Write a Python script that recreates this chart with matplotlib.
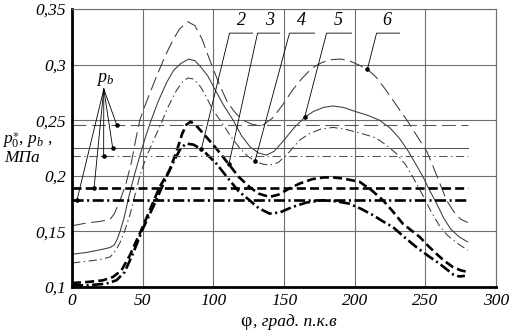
import numpy as np
import matplotlib
matplotlib.use("Agg")
import matplotlib.pyplot as plt

plt.rcParams['font.family'] = ['Liberation Serif', 'DejaVu Serif']
plt.rcParams['mathtext.fontset'] = 'custom'
plt.rcParams['mathtext.it'] = 'Liberation Serif:italic'
plt.rcParams['mathtext.rm'] = 'Liberation Serif'
plt.rcParams['lines.scale_dashes'] = False

# ---------------- data ----------------
x6 = [0, 10, 20, 27, 30, 34, 38, 42, 45, 48, 51, 55, 60, 66, 71, 76, 82, 87, 92, 97.5, 104, 110, 116, 121,
      128, 135, 142, 149, 156, 163, 170, 177, 184, 190, 197, 204, 209, 215, 221, 226, 232, 237, 242, 246,
      251, 255, 260, 265, 270, 275, 280]
y6 = [0.155, 0.1575, 0.159, 0.161, 0.166, 0.178, 0.192, 0.212, 0.232, 0.250, 0.261, 0.274, 0.290, 0.308,
      0.321, 0.332, 0.3385, 0.335, 0.323, 0.304, 0.283, 0.266, 0.256, 0.250, 0.246, 0.2455, 0.252, 0.2637,
      0.277, 0.288, 0.297, 0.302, 0.3045, 0.305, 0.303, 0.299, 0.2958, 0.289, 0.279, 0.270, 0.259, 0.250,
      0.240, 0.232, 0.222, 0.210, 0.194, 0.178, 0.168, 0.161, 0.158]

x5 = [0, 10, 20, 27, 30, 32, 34, 37, 40, 44, 48, 52, 56, 61, 67, 72, 77, 82.5, 87, 91, 96, 101, 107, 114,
      120, 126, 132, 137.5, 143, 150, 157, 164.6, 171, 178, 184.6, 192, 200, 209, 217.6, 225, 231.7, 237.5,
      243, 248, 253, 258, 263, 268, 274, 280]
y5 = [0.1295, 0.131, 0.1335, 0.1355, 0.138, 0.143, 0.150, 0.163, 0.180, 0.200, 0.218, 0.235, 0.250, 0.267,
      0.284, 0.295, 0.301, 0.305, 0.3035, 0.298, 0.290, 0.278, 0.264, 0.250, 0.236, 0.226, 0.2205, 0.2186,
      0.222, 0.232, 0.243, 0.2526, 0.258, 0.2615, 0.2628, 0.2615, 0.258, 0.2545, 0.250, 0.243, 0.2337, 0.223,
      0.211, 0.200, 0.187, 0.175, 0.162, 0.152, 0.145, 0.1405]

x4 = [0, 10, 20, 27, 31, 34, 37, 41, 45, 48, 52, 57, 62, 68, 74, 78, 82, 86, 91, 95, 99.7, 106, 112, 118,
      124, 129.4, 135, 140, 146, 152, 161, 168, 176, 184.6, 193, 202, 209, 215, 222, 229.5, 236, 242, 248,
      254, 260, 266, 273, 280]
y4 = [0.1216, 0.123, 0.1247, 0.127, 0.133, 0.140, 0.1495, 0.165, 0.185, 0.200, 0.215, 0.230, 0.244, 0.262,
      0.277, 0.284, 0.288, 0.287, 0.280, 0.271, 0.259, 0.248, 0.236, 0.226, 0.218, 0.213, 0.2105, 0.2096,
      0.212, 0.219, 0.232, 0.238, 0.242, 0.2435, 0.242, 0.239, 0.2365, 0.234, 0.228, 0.220, 0.210, 0.197,
      0.183, 0.168, 0.155, 0.146, 0.139, 0.133]

x3 = [0, 11, 22, 29, 35, 41, 45, 49, 55, 62, 69, 74, 78, 81, 84, 88, 93.8, 102, 111.5, 118, 125.6, 132,
      139.7, 146, 153, 161, 170, 178, 184.6, 192, 203.5, 212, 220, 227, 234, 240, 246, 252, 257.7, 263,
      269.4, 275, 280]
y3 = [0.1036, 0.1045, 0.106, 0.109, 0.115, 0.1286, 0.140, 0.151, 0.169, 0.190, 0.205, 0.222, 0.238, 0.246,
      0.2487, 0.245, 0.2367, 0.2247, 0.2095, 0.199, 0.190, 0.184, 0.181, 0.183, 0.188, 0.193, 0.197, 0.1985,
      0.1986, 0.1975, 0.1946, 0.187, 0.178, 0.168, 0.157, 0.151, 0.145, 0.137, 0.130, 0.124, 0.118, 0.115,
      0.1135]

x2 = [0, 11, 24.3, 31.4, 37.3, 43.1, 50.2, 58.5, 66.8, 72, 77, 80.9, 86, 92.6, 102.1, 111.5, 118, 125.6,
      132, 139.7, 147, 156, 166, 177.5, 187, 196, 205, 213, 220, 227, 235, 243.5, 252, 260, 266, 270, 274, 278]
y2 = [0.1015, 0.1015, 0.103, 0.106, 0.1135, 0.130, 0.1526, 0.175, 0.199, 0.213, 0.225, 0.229, 0.228, 0.223,
      0.211, 0.196, 0.186, 0.178, 0.171, 0.166, 0.167, 0.172, 0.176, 0.178, 0.177, 0.175, 0.170, 0.1646,
      0.159, 0.154, 0.145, 0.136, 0.128, 0.121, 0.115, 0.111, 0.1095, 0.110]

# p_b levels for curves 6, 5, 4, 3, 2
pb_values = [0.246, 0.225, 0.218, 0.189, 0.178]
pb_x_range = [0, 280]
# points on p_b lines where the p_b arrows land (phi values)
pb_arrow_x = [31.6, 28.8, 22.4, 15.6, 3.5]

curve_labels = ['2', '3', '4', '5', '6']
# phi where the leader of each label touches its curve
leader_x = [91.5, 111.0, 129.4, 164.6, 209.0]

xticks = [0, 50, 100, 150, 200, 250, 300]
yticks = [0.10, 0.15, 0.20, 0.25, 0.30, 0.35]
ytick_labels = ['0,1', '0,15', '0,2', '0,25', '0,3', '0,35']

# ---------------- styles ----------------
thin_c = '#3a3a3a'
styles = {
    '6': dict(color=thin_c, lw=0.75, dashes=(10, 4)),
    '5': dict(color=thin_c, lw=0.75, linestyle='-'),
    '4': dict(color=thin_c, lw=0.75, dashes=(6, 2.5, 1, 2.5)),
    '3': dict(color='black', lw=1.9, dashes=(6.5, 3)),
    '2': dict(color='black', lw=1.9, dashes=(8, 2.5, 1.5, 2.5)),
}

fig = plt.figure(figsize=(5.09, 3.31), dpi=100)
ax = fig.add_axes([72 / 509, 44 / 331, 424 / 509, 278 / 331])

ax.set_xlim(0, 300)
ax.set_ylim(0.1, 0.35)

ax.grid(True, color='#6e6e6e', lw=0.8)
ax.set_axisbelow(True)

series = {'6': (x6, y6), '5': (x5, y5), '4': (x4, y4), '3': (x3, y3), '2': (x2, y2)}
for key, (xs, ys) in series.items():
    ax.plot(xs, ys, **styles[key])

pb_keys = ['6', '5', '4', '3', '2']
for key, v in zip(pb_keys, pb_values):
    st = dict(styles[key])
    if key in ('6', '5', '4'):
        st['color'] = '#555555'
    ax.plot(pb_x_range, [v, v], **st)

# p_b annotation
orig = (22.5, 0.278)
for px, v in zip(pb_arrow_x, pb_values):
    ax.plot([orig[0], px], [orig[1], v], color='black', lw=0.6)
    ax.plot(px, v, 'o', color='black', ms=2.3)
ax.text(23.5, 0.2865, r'$p_b$', ha='center', va='center', fontsize=13)

# curve number labels with leaders
seg_left = [111.5, 131.3, 153.9, 180.1, 215.5]
seg_right = [127.8, 146.9, 171.6, 197.8, 231.7]
seg_y = 0.3283
lab_x = [119.6, 139.6, 162.5, 188.2, 222.8]
for lab, lx, sl, sr, tx in zip(curve_labels, leader_x, seg_left, seg_right, lab_x):
    xs, ys = series[lab]
    ly = float(np.interp(lx, xs, ys))
    ax.plot([lx, sl, sr], [ly, seg_y, seg_y], color='black', lw=0.6)
    ax.plot(lx, ly, 'o', color='black', ms=2.3)
    ax.text(tx, 0.3395, lab, ha='center', va='center', fontsize=13, style='italic')

ax.set_xticks(xticks)
ax.set_yticks(yticks)
ax.set_xticklabels([str(t) for t in xticks], fontsize=12.5, style='italic')
ax.set_yticklabels(ytick_labels, fontsize=12.5, style='italic')
ax.tick_params(length=0, pad=4)

for s in ('left', 'bottom'):
    ax.spines[s].set_linewidth(2.0)
    ax.spines[s].set_color('black')
for s in ('top', 'right'):
    ax.spines[s].set_linewidth(0.8)
    ax.spines[s].set_color('#6e6e6e')

# axis labels
fig.text(27 / 509, 1 - 141 / 331, r'$p_0^{\ast}$, $p_b$ ,', ha='center', va='center', fontsize=12.5)
fig.text(22 / 509, 1 - 158 / 331, 'МПа', ha='center', va='center', fontsize=12.5, style='italic')
fig.text(246 / 509, 1 - 322 / 331, 'φ', ha='center', va='center', fontsize=14)
fig.text(253 / 509, 1 - 322 / 331, ', град. п.к.в', ha='left', va='center', fontsize=12.5, style='italic')

fig.savefig('out.png', dpi=100)
